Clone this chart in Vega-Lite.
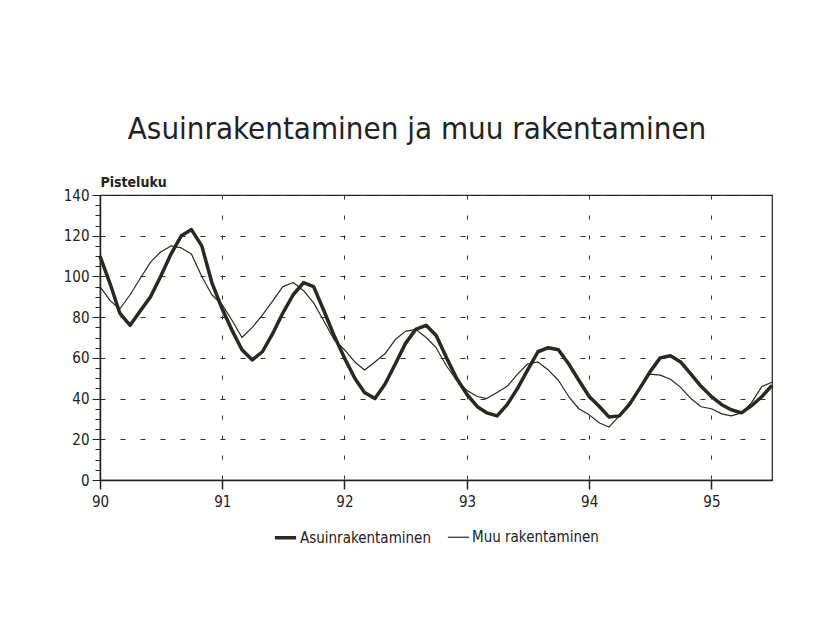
{
  "$schema": "https://vega.github.io/schema/vega-lite/v6.json",
  "width": 672,
  "height": 285,
  "autosize": {"type": "none"},
  "padding": {"left": 100, "top": 195, "right": 47, "bottom": 161},
  "background": "white",
  "title": {
    "text": "Asuinrakentaminen ja muu rakentaminen",
    "fontSize": 31,
    "fontWeight": "normal",
    "color": "#222222",
    "anchor": "middle",
    "offset": 29,
    "dx": -19
  },
  "data": {
    "values": [
      {"kk": "1990-01-01", "Asuinrakentaminen": 110, "Muu rakentaminen": 95},
      {"kk": "1990-02-01", "Asuinrakentaminen": 96, "Muu rakentaminen": 88},
      {"kk": "1990-03-01", "Asuinrakentaminen": 82, "Muu rakentaminen": 84},
      {"kk": "1990-04-01", "Asuinrakentaminen": 76, "Muu rakentaminen": 91},
      {"kk": "1990-05-01", "Asuinrakentaminen": 83, "Muu rakentaminen": 99},
      {"kk": "1990-06-01", "Asuinrakentaminen": 90, "Muu rakentaminen": 107},
      {"kk": "1990-07-01", "Asuinrakentaminen": 100, "Muu rakentaminen": 112},
      {"kk": "1990-08-01", "Asuinrakentaminen": 111, "Muu rakentaminen": 115},
      {"kk": "1990-09-01", "Asuinrakentaminen": 120, "Muu rakentaminen": 114},
      {"kk": "1990-10-01", "Asuinrakentaminen": 123, "Muu rakentaminen": 111},
      {"kk": "1990-11-01", "Asuinrakentaminen": 115, "Muu rakentaminen": 100},
      {"kk": "1990-12-01", "Asuinrakentaminen": 97, "Muu rakentaminen": 91},
      {"kk": "1991-01-01", "Asuinrakentaminen": 84, "Muu rakentaminen": 86},
      {"kk": "1991-02-01", "Asuinrakentaminen": 73, "Muu rakentaminen": 78},
      {"kk": "1991-03-01", "Asuinrakentaminen": 64, "Muu rakentaminen": 70},
      {"kk": "1991-04-01", "Asuinrakentaminen": 59, "Muu rakentaminen": 75},
      {"kk": "1991-05-01", "Asuinrakentaminen": 63, "Muu rakentaminen": 81},
      {"kk": "1991-06-01", "Asuinrakentaminen": 72, "Muu rakentaminen": 88},
      {"kk": "1991-07-01", "Asuinrakentaminen": 82, "Muu rakentaminen": 95},
      {"kk": "1991-08-01", "Asuinrakentaminen": 91, "Muu rakentaminen": 97},
      {"kk": "1991-09-01", "Asuinrakentaminen": 97, "Muu rakentaminen": 93},
      {"kk": "1991-10-01", "Asuinrakentaminen": 95, "Muu rakentaminen": 87},
      {"kk": "1991-11-01", "Asuinrakentaminen": 83, "Muu rakentaminen": 78},
      {"kk": "1991-12-01", "Asuinrakentaminen": 71, "Muu rakentaminen": 69},
      {"kk": "1992-01-01", "Asuinrakentaminen": 60, "Muu rakentaminen": 64},
      {"kk": "1992-02-01", "Asuinrakentaminen": 50, "Muu rakentaminen": 58},
      {"kk": "1992-03-01", "Asuinrakentaminen": 43, "Muu rakentaminen": 54},
      {"kk": "1992-04-01", "Asuinrakentaminen": 40, "Muu rakentaminen": 58},
      {"kk": "1992-05-01", "Asuinrakentaminen": 47, "Muu rakentaminen": 62},
      {"kk": "1992-06-01", "Asuinrakentaminen": 57, "Muu rakentaminen": 69},
      {"kk": "1992-07-01", "Asuinrakentaminen": 67, "Muu rakentaminen": 73},
      {"kk": "1992-08-01", "Asuinrakentaminen": 74, "Muu rakentaminen": 74},
      {"kk": "1992-09-01", "Asuinrakentaminen": 76, "Muu rakentaminen": 70},
      {"kk": "1992-10-01", "Asuinrakentaminen": 71, "Muu rakentaminen": 65},
      {"kk": "1992-11-01", "Asuinrakentaminen": 60, "Muu rakentaminen": 56},
      {"kk": "1992-12-01", "Asuinrakentaminen": 50, "Muu rakentaminen": 49},
      {"kk": "1993-01-01", "Asuinrakentaminen": 42, "Muu rakentaminen": 44},
      {"kk": "1993-02-01", "Asuinrakentaminen": 36, "Muu rakentaminen": 41},
      {"kk": "1993-03-01", "Asuinrakentaminen": 33, "Muu rakentaminen": 40},
      {"kk": "1993-04-01", "Asuinrakentaminen": 31.5, "Muu rakentaminen": 43},
      {"kk": "1993-05-01", "Asuinrakentaminen": 37, "Muu rakentaminen": 46},
      {"kk": "1993-06-01", "Asuinrakentaminen": 45, "Muu rakentaminen": 52},
      {"kk": "1993-07-01", "Asuinrakentaminen": 54, "Muu rakentaminen": 57},
      {"kk": "1993-08-01", "Asuinrakentaminen": 63, "Muu rakentaminen": 58},
      {"kk": "1993-09-01", "Asuinrakentaminen": 65, "Muu rakentaminen": 54},
      {"kk": "1993-10-01", "Asuinrakentaminen": 64, "Muu rakentaminen": 49},
      {"kk": "1993-11-01", "Asuinrakentaminen": 57, "Muu rakentaminen": 41},
      {"kk": "1993-12-01", "Asuinrakentaminen": 49, "Muu rakentaminen": 35},
      {"kk": "1994-01-01", "Asuinrakentaminen": 41, "Muu rakentaminen": 32},
      {"kk": "1994-02-01", "Asuinrakentaminen": 36, "Muu rakentaminen": 28},
      {"kk": "1994-03-01", "Asuinrakentaminen": 31, "Muu rakentaminen": 26},
      {"kk": "1994-04-01", "Asuinrakentaminen": 31.5, "Muu rakentaminen": 31.5},
      {"kk": "1994-05-01", "Asuinrakentaminen": 37, "Muu rakentaminen": 38},
      {"kk": "1994-06-01", "Asuinrakentaminen": 45, "Muu rakentaminen": 45},
      {"kk": "1994-07-01", "Asuinrakentaminen": 53, "Muu rakentaminen": 52},
      {"kk": "1994-08-01", "Asuinrakentaminen": 60, "Muu rakentaminen": 51.5},
      {"kk": "1994-09-01", "Asuinrakentaminen": 61, "Muu rakentaminen": 49.5},
      {"kk": "1994-10-01", "Asuinrakentaminen": 58, "Muu rakentaminen": 45.5},
      {"kk": "1994-11-01", "Asuinrakentaminen": 52, "Muu rakentaminen": 40},
      {"kk": "1994-12-01", "Asuinrakentaminen": 46, "Muu rakentaminen": 36},
      {"kk": "1995-01-01", "Asuinrakentaminen": 41, "Muu rakentaminen": 35},
      {"kk": "1995-02-01", "Asuinrakentaminen": 37, "Muu rakentaminen": 32.5},
      {"kk": "1995-03-01", "Asuinrakentaminen": 34.5, "Muu rakentaminen": 31.5},
      {"kk": "1995-04-01", "Asuinrakentaminen": 33, "Muu rakentaminen": 33},
      {"kk": "1995-05-01", "Asuinrakentaminen": 36.5, "Muu rakentaminen": 38},
      {"kk": "1995-06-01", "Asuinrakentaminen": 41, "Muu rakentaminen": 46},
      {"kk": "1995-07-01", "Asuinrakentaminen": 46.5, "Muu rakentaminen": 48}
    ]
  },
  "transform": [
    {"fold": ["Asuinrakentaminen", "Muu rakentaminen"], "as": ["sarja", "arvo"]}
  ],
  "mark": {"type": "line", "color": "#2a2822", "strokeJoin": "round"},
  "encoding": {
    "x": {
      "field": "kk",
      "type": "temporal",
      "scale": {
        "type": "utc",
        "domain": [
          {"year": 1990, "month": 1, "date": 1, "utc": true},
          {"year": 1995, "month": 7, "date": 1, "utc": true}
        ]
      },
      "axis": {
        "title": null,
        "format": "%y",
        "values": [
          {"year": 1990, "month": 1, "date": 1, "utc": true},
          {"year": 1991, "month": 1, "date": 1, "utc": true},
          {"year": 1992, "month": 1, "date": 1, "utc": true},
          {"year": 1993, "month": 1, "date": 1, "utc": true},
          {"year": 1994, "month": 1, "date": 1, "utc": true},
          {"year": 1995, "month": 1, "date": 1, "utc": true}
        ],
        "grid": true,
        "gridDash": [4, 16],
        "gridColor": "#333333",
        "gridWidth": 1,
        "gridOpacity": 1,
        "domainColor": "#222222",
        "domainWidth": 1.5,
        "tickColor": "#222222",
        "tickWidth": 1.5,
        "tickSize": 9,
        "labelFontSize": 15,
        "labelColor": "#222222",
        "labelPadding": 5,
        "labelFlush": false
      }
    },
    "y": {
      "field": "arvo",
      "type": "quantitative",
      "scale": {"domain": [0, 140], "nice": false},
      "axis": {
        "title": "Pisteluku",
        "titleAngle": 0,
        "titleAlign": "left",
        "titleBaseline": "bottom",
        "titleX": 0,
        "titleY": -6,
        "titleFontSize": 14,
        "titleFontWeight": "bold",
        "titleColor": "#222222",
        "values": [0,5,10,15,20,25,30,35,40,45,50,55,60,65,70,75,80,85,90,95,100,105,110,115,120,125,130,135,140],
        "labelExpr": "datum.value % 20 === 0 ? datum.label : ''",
        "tickSize": {"condition": {"test": "datum.value % 20 === 0", "value": 8}, "value": 5},
        "gridOpacity": {"condition": {"test": "datum.value % 20 === 0", "value": 1}, "value": 0},
        "grid": true,
        "gridDash": [5, 15],
        "gridColor": "#333333",
        "gridWidth": 1,
        "domainColor": "#222222",
        "domainWidth": 1.5,
        "tickColor": "#222222",
        "tickWidth": 1,
        "labelFontSize": 15,
        "labelColor": "#222222",
        "labelPadding": 3
      }
    },
    "strokeWidth": {
      "field": "sarja",
      "type": "nominal",
      "scale": {"domain": ["Asuinrakentaminen", "Muu rakentaminen"], "range": [3.5, 1.2]},
      "legend": {
        "title": null,
        "orient": "bottom",
        "direction": "horizontal",
        "symbolType": "stroke",
        "symbolStrokeColor": "#2a2822",
        "symbolSize": 450,
        "labelFontSize": 15,
        "labelColor": "#222222",
        "labelOffset": 2,
        "columnPadding": 14,
        "offset": 16
      }
    }
  },
  "config": {
    "font": "Liberation Sans Narrow, Arial Narrow, DejaVu Sans Condensed, sans-serif",
    "view": {"stroke": "#222222", "strokeWidth": 1.2},
    "legend": {"layout": {"bottom": {"anchor": "middle"}}}
  }
}
